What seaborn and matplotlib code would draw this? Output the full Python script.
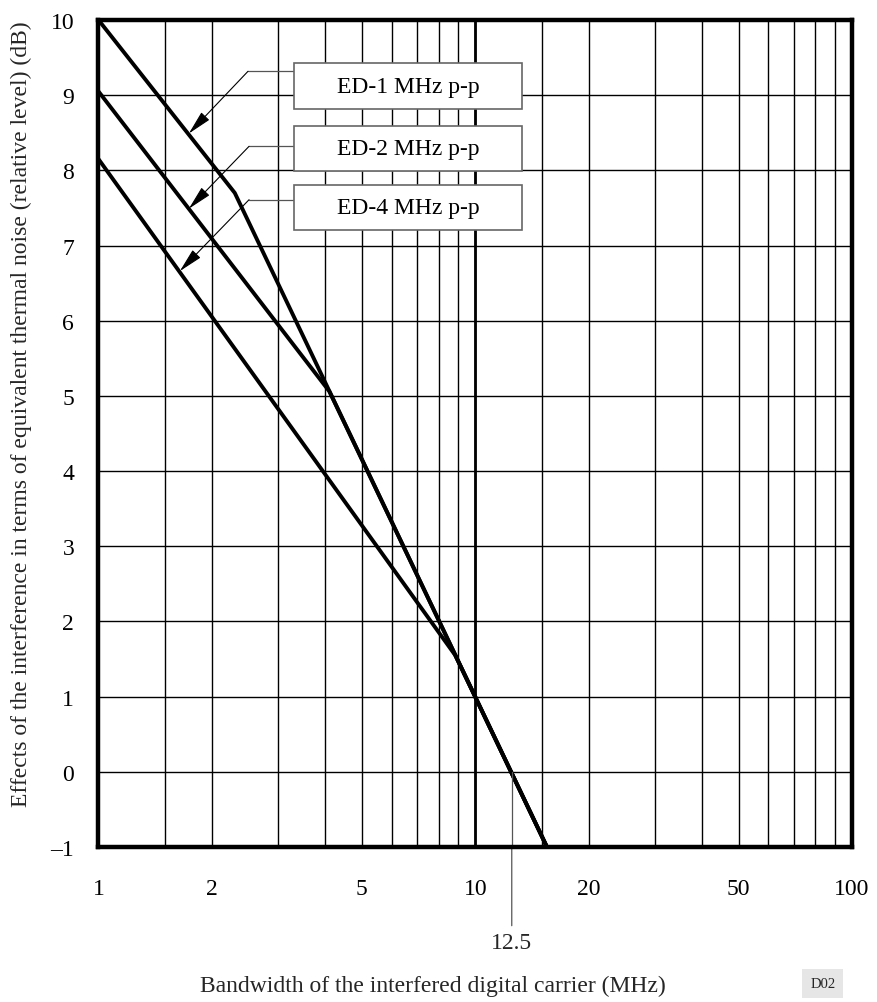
import matplotlib
matplotlib.use("Agg")
import matplotlib.pyplot as plt
from matplotlib.patches import Rectangle
import seaborn as sns
import pandas as pd
import numpy as np

# ---- data ----
series_names = ["ED-1 MHz p-p", "ED-2 MHz p-p", "ED-4 MHz p-p"]
ed1_x = [1.0, 2.3, 15.5]
ed1_y = [10.0, 7.7, -1.0]
ed2_x = [1.0, 4.1, 15.5]
ed2_y = [9.05, 5.06, -1.0]
ed4_x = [1.0, 8.85, 15.5]
ed4_y = [8.15, 1.55, -1.0]

x_major_ticks = [1, 2, 5, 10, 20, 50, 100]
x_major_labels = ["1", "2", "5", "10", "20", "50", "100"]
x_minor_grid = [1.5, 3, 4, 6, 7, 8, 9, 15, 30, 40, 60, 70, 80, 90]
y_ticks = list(range(-1, 11))
y_labels = ["\u20131"] + [str(v) for v in range(0, 11)]
marker_x = 12.5
marker_label = "12.5"

x_label = "Bandwidth of the interfered digital carrier (MHz)"
y_label = "Effects of the interference in terms of equivalent thermal noise (relative level) (dB)"

df = pd.concat([
    pd.DataFrame({"x": ed1_x, "y": ed1_y, "series": series_names[0]}),
    pd.DataFrame({"x": ed2_x, "y": ed2_y, "series": series_names[1]}),
    pd.DataFrame({"x": ed4_x, "y": ed4_y, "series": series_names[2]}),
], ignore_index=True)

sns.set_theme(style="white")
plt.rcParams["font.family"] = ["Liberation Serif", "DejaVu Serif"]

FS = 17

W, H = 878, 1003
fig = plt.figure(figsize=(W / 100, H / 100), dpi=100)
L, R, T, B = 98.5, 852.0, 21.0, 848.0
ax = fig.add_axes([L / W, 1 - B / H, (R - L) / W, (B - T) / H])

ax.set_xscale("log")
ax.set_xlim(1, 100)
ax.set_ylim(-1, 10)

# grid
ax.set_xticks(x_major_ticks)
ax.set_xticklabels(x_major_labels)
ax.set_xticks(x_minor_grid, minor=True)
ax.set_xticklabels([], minor=True)
ax.set_yticks(y_ticks)
ax.set_yticklabels(y_labels)
ax.grid(True, which="both", axis="both", color="black", linewidth=1.0, zorder=1)
ax.set_axisbelow(True)
ax.axvline(10, color="black", linewidth=2.0, zorder=1.5)

sns.lineplot(data=df, x="x", y="y", hue="series", palette=["black"] * 3,
             legend=False, sort=False, estimator=None, linewidth=2.8, ax=ax, zorder=3)

for s in ax.spines.values():
    s.set_linewidth(3.2)
    s.set_color("black")
    s.set_zorder(5)

ax.tick_params(axis="both", which="both", length=0, labelsize=FS, colors="black")
ax.tick_params(axis="x", pad=22)
ax.tick_params(axis="y", pad=17.5)
ax.set_xlabel("")
ax.set_ylabel("")

# label boxes
box_x0, box_x1 = 0.2595, 0.5617
box_ys = [(0.8924, 0.9477), (0.8178, 0.8722), (0.7461, 0.8009)]
for name, (y0, y1) in zip(series_names, box_ys):
    ax.add_patch(Rectangle((box_x0, y0), box_x1 - box_x0, y1 - y0,
                           transform=ax.transAxes, facecolor="white",
                           edgecolor="#666666", linewidth=1.2, zorder=6,
                           clip_on=False))
    ax.text((box_x0 + box_x1) / 2, (y0 + y1) / 2, name, transform=ax.transAxes,
            ha="center", va="center", fontsize=FS, color="black", zorder=7)

# leader lines (box edge -> corner -> arrow tip on curve)
leaders = [
    ((3.296, 9.318), (2.494, 9.318), (1.737, 8.49)),
    ((3.296, 8.32), (2.51, 8.32), (1.737, 7.49)),
    ((3.296, 7.61), (2.51, 7.61), (1.644, 6.66)),
]
for start, corner, tip in leaders:
    ax.plot([start[0], corner[0]], [start[1], corner[1]], color="#555555",
            linewidth=0.9, zorder=4)
    ax.annotate("", xy=tip, xytext=corner, xycoords="data", textcoords="data",
                arrowprops=dict(arrowstyle="-|>,head_length=0.75,head_width=0.17",
                                color="black", linewidth=0.8, shrinkA=0, shrinkB=0,
                                mutation_scale=20),
                zorder=4)

# 12.5 marker line (from curve at y=0 down below the axis)
ax.plot([marker_x, marker_x], [0, -1], color="#555555", linewidth=0.9, zorder=4)
ax.annotate("", xy=(marker_x, -1), xycoords="data",
            xytext=(0, -(926.7 - 848) / 100 * 72), textcoords="offset points",
            arrowprops=dict(arrowstyle="-", color="#555555", linewidth=0.9,
                            shrinkA=0, shrinkB=0), annotation_clip=False)
ax.annotate(marker_label, xy=(marker_x, -1), xycoords="data",
            xytext=(0, -(944 - 848) / 100 * 72), textcoords="offset points",
            ha="center", va="center", fontsize=FS, annotation_clip=False)

# axis titles
fig.text(433 / W, 1 - 986 / H, x_label, ha="center", va="center", fontsize=FS)
fig.text(21 / W, 1 - 414 / H, y_label, ha="center", va="center",
         rotation=90, fontsize=FS)

# D02 tag
fig.text(822.8 / W, 1 - 984.5 / H, "D02", ha="center", va="center", fontsize=10.5,
         bbox=dict(boxstyle="square,pad=0.55", facecolor="#e6e6e6", edgecolor="none"))

fig.savefig("out.png", dpi=100)
